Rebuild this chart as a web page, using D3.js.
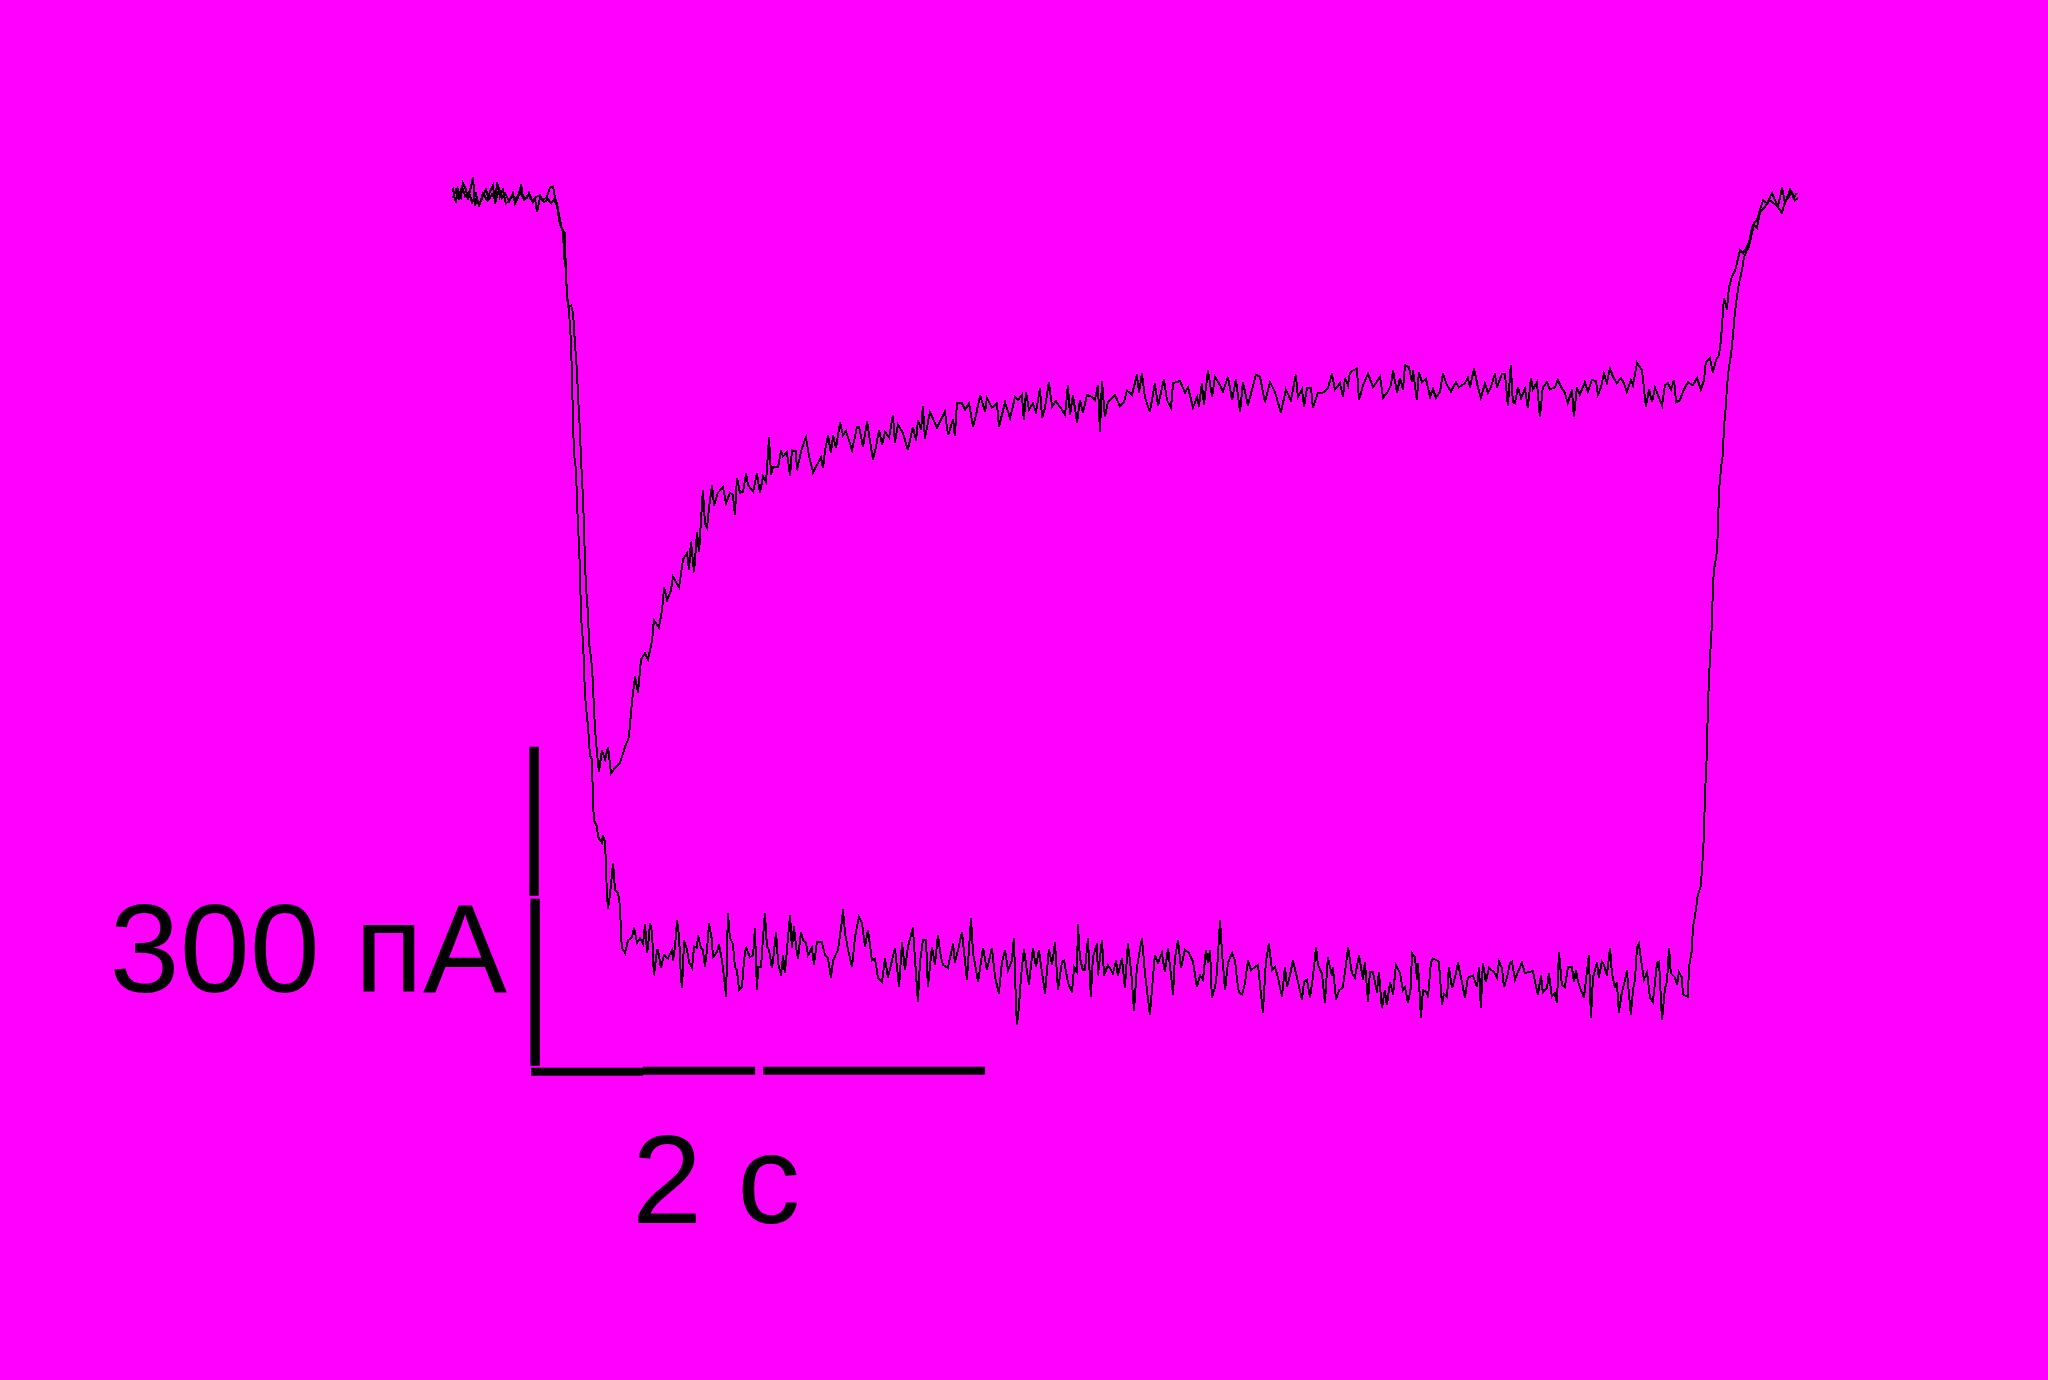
<!DOCTYPE html>
<html>
<head>
<meta charset="utf-8">
<script src="https://cdnjs.cloudflare.com/ajax/libs/d3/7.8.5/d3.min.js"></script>
<style>
  html, body { margin: 0; padding: 0; background: #ff00ff; }
  svg { display: block; }
</style>
</head>
<body>
<script>
// ---- data: time (s), current (pA) ----
const traceA = [
[0,8],[0.004,1],[0.013,-6],[0.022,6],[0.035,-1],[0.044,12],[0.057,6],[0.066,-4],[0.079,9],[0.088,18],[0.097,-9],[0.106,-4],[0.119,-7],[0.132,3],[0.150,-4],[0.163,4],[0.176,10],[0.185,-7],[0.194,13],[0.207,-1],[0.220,6],[0.233,-7],[0.251,-4],[0.264,3],[0.273,-7],[0.286,-2],[0.300,11],[0.308,-1],[0.326,-2],[0.335,3],[0.352,-6],[0.366,-1],[0.383,1],[0.396,-4],[0.414,-1],[0.427,8],[0.441,9],[0.449,-1],[0.458,-7],
[0.480,-32],[0.493,-35],[0.498,-79],[0.507,-104],[0.520,-103],[0.529,-110],[0.537,-138],[0.546,-164],[0.551,-189],[0.559,-220],[0.564,-248],[0.573,-286],[0.577,-311],[0.581,-342],[0.586,-368],[0.595,-394],[0.599,-420],[0.608,-434],[0.612,-443],[0.617,-460],[0.621,-483],[0.626,-502],[0.634,-523],[0.643,-542],[0.656,-521],[0.670,-530],[0.683,-518],[0.696,-543],[0.714,-538],[0.736,-533],[0.758,-518],[0.775,-509],[0.789,-474],[0.802,-452],[0.815,-467],[0.828,-436],[0.846,-430],[0.859,-436],[0.877,-418],[0.885,-399],[0.907,-406],[0.921,-389],[0.930,-368],[0.943,-380],[0.960,-371],[0.969,-358],[0.996,-368],[1.013,-342],[1.031,-336],[1.040,-352],[1.048,-325],[1.062,-354],[1.075,-316],[1.084,-335],[1.097,-289],[1.101,-277],[1.110,-308],[1.119,-312],[1.128,-293],[1.141,-272],[1.150,-291],[1.167,-279],[1.189,-274],[1.203,-289],[1.220,-279],[1.233,-281],[1.242,-300],[1.251,-265],[1.264,-279],[1.278,-278],[1.291,-261],[1.300,-272],[1.322,-278],[1.339,-261],[1.352,-279],[1.366,-264],[1.379,-269],[1.392,-227],[1.401,-262],[1.410,-255],[1.432,-255],[1.445,-239],[1.454,-245],[1.471,-241],[1.485,-263],[1.493,-239],[1.511,-240],[1.515,-258],[1.537,-237],[1.555,-227],[1.568,-244],[1.586,-260],[1.603,-253],[1.621,-246],[1.630,-256],[1.639,-239],[1.652,-225],[1.665,-242],[1.674,-225],[1.687,-237],[1.705,-213],[1.718,-225],[1.731,-221],[1.758,-239],[1.780,-217],[1.789,-217],[1.806,-236],[1.824,-212],[1.833,-225],[1.850,-248],[1.863,-236],[1.877,-220],[1.890,-234],[1.903,-222],[1.921,-227],[1.938,-206],[1.947,-232],[1.960,-215],[1.982,-223],[2.004,-239],[2.026,-217],[2.040,-230],[2.048,-211],[2.062,-220],[2.070,-198],[2.079,-228],[2.101,-203],[2.132,-218],[2.167,-203],[2.181,-225],[2.203,-210],[2.211,-226],[2.220,-195],[2.242,-195],[2.256,-201],[2.273,-195],[2.291,-217],[2.304,-206],[2.322,-187],[2.344,-203],[2.352,-190],[2.374,-199],[2.396,-195],[2.405,-217],
[2.432,-194],[2.454,-209],[2.476,-189],[2.489,-192],[2.506,-187],[2.515,-211],[2.524,-184],[2.537,-201],[2.555,-195],[2.568,-203],[2.586,-181],[2.595,-209],[2.608,-199],[2.625,-175],[2.639,-198],[2.656,-193],[2.683,-201],[2.696,-206],[2.709,-178],[2.718,-206],[2.731,-187],[2.749,-213],[2.762,-192],[2.775,-204],[2.793,-187],[2.815,-189],[2.828,-192],[2.841,-178],[2.850,-222],[2.859,-174],[2.872,-208],[2.885,-194],[2.916,-187],[2.938,-198],[2.956,-194],[2.969,-183],[2.991,-187],[3.013,-168],[3.022,-185],[3.035,-167],[3.048,-189],[3.070,-203],[3.092,-176],[3.106,-197],[3.132,-172],[3.145,-192],[3.163,-199],[3.172,-176],[3.203,-174],[3.225,-185],[3.238,-180],[3.260,-199],[3.278,-189],[3.286,-198],[3.299,-176],[3.308,-196],[3.326,-164],[3.344,-189],[3.357,-170],[3.379,-178],[3.392,-184],[3.414,-170],[3.432,-192],[3.449,-172],[3.467,-203],[3.480,-175],[3.502,-197],[3.520,-182],[3.537,-168],[3.555,-170],[3.577,-194],[3.599,-175],[3.621,-184],[3.647,-204],[3.669,-182],[3.691,-192],[3.713,-168],[3.722,-189],[3.740,-182],[3.749,-198],[3.762,-181],[3.780,-181],[3.788,-199],[3.810,-185],[3.832,-185],[3.854,-181],[3.872,-167],[3.885,-182],[3.907,-176],[3.921,-189],[3.929,-171],[3.943,-178],[3.951,-166],[3.982,-162],[3.991,-192],[4.009,-178],[4.031,-167],[4.053,-180],[4.084,-170],[4.097,-190],[4.115,-185],[4.132,-178],[4.141,-164],[4.159,-185],[4.172,-171],
[4.185,-182],[4.194,-159],[4.211,-161],[4.225,-175],[4.229,-164],[4.246,-192],[4.255,-166],[4.269,-175],[4.286,-172],[4.304,-189],[4.317,-181],[4.330,-190],[4.348,-184],[4.361,-167],[4.379,-178],[4.396,-184],[4.418,-175],[4.431,-180],[4.458,-176],[4.471,-171],[4.480,-180],[4.498,-162],[4.515,-180],[4.528,-190],[4.546,-176],[4.559,-185],[4.572,-180],[4.590,-167],[4.599,-180],[4.621,-167],[4.634,-167],[4.647,-197],[4.660,-159],[4.669,-194],[4.678,-195],[4.691,-180],[4.705,-190],[4.722,-181],[4.735,-199],[4.749,-171],[4.757,-182],[4.775,-175],[4.788,-208],[4.801,-180],[4.819,-175],[4.832,-182],[4.854,-180],[4.867,-173],[4.885,-181],[4.898,-185],[4.911,-195],[4.929,-182],[4.938,-208],[4.951,-180],[4.964,-187],[4.986,-175],[4.999,-184],[5.017,-173],[5.035,-174],[5.044,-187],[5.057,-180],[5.070,-167],[5.083,-176],[5.097,-162],[5.110,-170],[5.127,-176],[5.145,-171],[5.158,-176],[5.171,-184],[5.189,-173],[5.198,-178],[5.216,-157],[5.238,-164],[5.255,-198],[5.269,-182],[5.282,-194],[5.295,-180],[5.308,-187],[5.326,-197],[5.339,-178],[5.352,-176],[5.366,-182],[5.379,-173],[5.388,-194],[5.405,-192],[5.418,-184],[5.440,-175],[5.462,-178],[5.480,-171],[5.497,-182],[5.511,-173],[5.519,-156],[5.537,-152],[5.550,-166],[5.564,-154],[5.577,-150],[5.586,-135],[5.595,-107],[5.599,-96],[5.612,-107],[5.621,-86],[5.634,-76],[5.648,-70],[5.656,-63],[5.670,-51],[5.683,-54],[5.696,-49],[5.709,-44],[5.722,-30],[5.731,-25],[5.744,-23],[5.762,-10],[5.771,-4],[5.789,-7],[5.811,3],[5.824,-4],[5.837,-10],[5.855,8],[5.868,-7],[5.890,6],[5.907,-2],[5.920,3]
];

const traceB = [
[0,-2],[0.013,6],[0.026,-2],[0.040,9],[0.053,0],[0.070,4],[0.084,-6],[0.101,2],[0.115,-9],[0.128,-2],[0.145,6],[0.159,-3],[0.172,2],[0.189,-4],[0.203,7],[0.216,-2],[0.229,3],[0.247,-5],[0.260,0],[0.278,-3],[0.295,4],[0.313,-4],[0.330,1],[0.348,-4],[0.361,-2],[0.370,-15],[0.383,-2],[0.401,-6],[0.419,-3],[0.432,-7],[0.445,-3],[0.458,-9],
[0.471,-27],[0.485,-32],[0.489,-57],[0.498,-70],[0.502,-95],[0.511,-107],[0.515,-123],[0.520,-138],[0.524,-170],[0.529,-214],[0.533,-242],[0.542,-258],[0.546,-286],[0.551,-311],[0.559,-349],[0.564,-396],[0.573,-420],[0.577,-443],[0.581,-467],[0.586,-481],[0.595,-499],[0.603,-526],[0.612,-530],[0.617,-571],[0.621,-587],[0.634,-593],[0.639,-603],[0.656,-608],[0.661,-601],[0.670,-608],[0.678,-656],[0.683,-670],[0.692,-656],[0.705,-627],[0.714,-653],[0.727,-655],[0.736,-669],[0.740,-693],[0.744,-707],[0.758,-712],[0.771,-700],[0.789,-697],[0.797,-688],[0.811,-702],[0.824,-698],[0.837,-703],[0.846,-685],[0.855,-712],[0.859,-706],[0.868,-684],[0.877,-693],[0.885,-733],[0.899,-709],[0.903,-709],[0.916,-726],[0.929,-714],[0.947,-717],[0.965,-709],[0.969,-719],[0.978,-706],[0.987,-681],[0.996,-697],[1.004,-735],[1.009,-745],[1.018,-700],[1.031,-709],[1.040,-721],[1.053,-726],[1.062,-706],[1.075,-707],[1.079,-695],[1.092,-707],[1.101,-709],[1.110,-725],[1.119,-709],[1.128,-684],[1.141,-700],[1.145,-716],[1.163,-711],[1.172,-704],[1.185,-719],[1.194,-735],[1.203,-753],[1.211,-674],[1.220,-698],[1.233,-703],[1.242,-725],[1.251,-728],[1.260,-747],[1.273,-744],[1.282,-719],[1.291,-706],[1.308,-716],[1.322,-714],[1.330,-688],[1.339,-747],[1.344,-725],[1.357,-725],[1.366,-697],[1.374,-674],[1.383,-706],[1.392,-709],[1.405,-726],[1.410,-719],[1.423,-692],[1.432,-721],[1.445,-733],[1.454,-714],[1.462,-731],[1.476,-697],[1.485,-676],[1.493,-707],[1.502,-687],[1.515,-712],[1.520,-717],[1.533,-692],[1.542,-700],[1.555,-702],[1.564,-714],[1.581,-707],[1.590,-723],[1.603,-702],[1.625,-702],[1.639,-714],[1.652,-717],[1.665,-735],[1.674,-719],[1.696,-709],[1.714,-681],[1.718,-671],[1.727,-693],[1.740,-709],[1.758,-725],[1.771,-697],[1.788,-678],[1.802,-684],[1.815,-706],[1.828,-690],[1.846,-719],[1.859,-717],[1.872,-735],[1.890,-739],[1.903,-717],[1.916,-735],[1.934,-719],[1.947,-707],[1.965,-744],[1.978,-702],[1.991,-728],[2.004,-706],[2.026,-688],[2.048,-758],[2.057,-721],[2.070,-700],[2.084,-700],[2.092,-744],[2.110,-706],[2.123,-723],[2.136,-695],[2.150,-716],[2.158,-723],[2.180,-726],[2.203,-703],[2.211,-721],[2.225,-709],[2.242,-692],[2.264,-737],[2.282,-679],[2.291,-712],[2.313,-739],[2.335,-707],[2.352,-728],[2.374,-707],[2.388,-735],[2.405,-750],[2.418,-721],[2.432,-709],[2.445,-728],[2.462,-719],[2.471,-698],[2.480,-759],[2.484,-780],[2.493,-763],[2.502,-735],[2.515,-708],[2.528,-728],[2.537,-742],[2.555,-707],[2.568,-725],[2.581,-709],[2.595,-731],[2.608,-750],[2.625,-708],[2.639,-723],[2.652,-702],[2.665,-747],[2.683,-720],[2.692,-719],[2.709,-740],[2.727,-749],[2.736,-725],[2.749,-730],[2.753,-685],[2.762,-717],[2.775,-728],[2.784,-728],[2.797,-698],[2.810,-753],[2.819,-716],[2.837,-703],[2.841,-733],[2.859,-700],[2.868,-733],[2.885,-723],[2.907,-731],[2.921,-719],[2.929,-733],[2.947,-717],[2.960,-745],[2.973,-703],[2.987,-728],[3.000,-766],[3.013,-725],[3.035,-698],[3.048,-730],[3.070,-770],[3.079,-747],[3.092,-714],[3.106,-721],[3.123,-712],[3.136,-730],[3.150,-707],[3.172,-751],[3.180,-717],[3.194,-700],[3.207,-726],[3.224,-709],[3.242,-712],[3.260,-720],[3.277,-744],[3.291,-733],[3.304,-737],[3.317,-709],[3.326,-721],[3.335,-709],[3.343,-754],[3.357,-744],[3.365,-731],[3.379,-681],[3.388,-712],[3.401,-747],[3.414,-721],[3.432,-712],[3.445,-719],[3.454,-737],[3.462,-749],[3.476,-751],[3.489,-740],[3.502,-719],[3.515,-728],[3.528,-726],[3.546,-723],[3.559,-750],[3.568,-768],[3.581,-720],[3.594,-703],[3.608,-728],[3.621,-725],[3.634,-735],[3.652,-753],[3.665,-725],[3.674,-744],[3.687,-733],[3.700,-719],[3.718,-735],[3.740,-756],[3.749,-739],[3.762,-737],[3.775,-754],[3.788,-735],[3.802,-706],[3.810,-723],[3.828,-731],[3.841,-759],[3.854,-716],[3.872,-733],[3.876,-725],[3.890,-756],[3.903,-747],[3.920,-744],[3.938,-716],[3.943,-706],[3.960,-731],[3.973,-735],[3.991,-714],[4.009,-737],[4.017,-720],[4.031,-758],[4.039,-730],[4.053,-730],[4.070,-749],[4.079,-730],[4.092,-764],[4.105,-747],[4.114,-761],[4.128,-739],[4.141,-751],[4.154,-723],[4.172,-731],[4.185,-747],[4.194,-744],[4.207,-759],[4.220,-744],[4.224,-712],[4.238,-716],[4.247,-737],[4.251,-721],[4.264,-773],[4.273,-747],[4.291,-749],[4.295,-754],[4.308,-721],[4.317,-717],[4.335,-719],[4.343,-720],[4.357,-761],[4.365,-750],[4.379,-753],[4.387,-725],[4.401,-745],[4.414,-735],[4.427,-721],[4.445,-740],[4.458,-754],[4.471,-735],[4.493,-733],[4.511,-744],[4.520,-725],[4.528,-764],[4.537,-721],[4.550,-739],[4.564,-726],[4.586,-730],[4.599,-735],[4.608,-720],[4.621,-726],[4.630,-744],[4.643,-735],[4.656,-721],[4.665,-720],[4.678,-737],[4.691,-730],[4.709,-721],[4.722,-731],[4.735,-730],[4.757,-729],[4.775,-747],[4.779,-751],[4.793,-733],[4.801,-749],[4.819,-745],[4.828,-731],[4.841,-753],[4.854,-750],[4.863,-759],[4.872,-711],[4.885,-742],[4.898,-744],[4.912,-725],[4.929,-725],[4.938,-739],[4.947,-728],[4.956,-739],[4.973,-749],[4.982,-754],[4.995,-730],[5.004,-714],[5.013,-773],[5.022,-735],[5.039,-721],[5.048,-735],[5.061,-720],[5.070,-723],[5.083,-733],[5.097,-707],[5.105,-730],[5.119,-745],[5.127,-739],[5.136,-768],[5.149,-749],[5.158,-742],[5.171,-728],[5.189,-770],[5.198,-747],[5.207,-737],[5.216,-706],[5.224,-703],[5.238,-725],[5.246,-737],[5.260,-730],[5.273,-754],[5.286,-758],[5.304,-721],[5.313,-720],[5.326,-775],[5.339,-745],[5.348,-739],[5.357,-707],[5.365,-731],[5.383,-735],[5.392,-742],[5.401,-730],[5.414,-735],[5.418,-751],[5.440,-753],[5.445,-725],[5.458,-709],[5.462,-688],[5.471,-678],[5.484,-657],[5.497,-649],[5.506,-621],[5.511,-599],[5.515,-565],[5.524,-522],[5.528,-480],[5.537,-436],[5.546,-402],[5.550,-368],[5.555,-351],[5.564,-341],[5.568,-333],[5.572,-316],[5.577,-277],[5.586,-256],[5.594,-243],[5.599,-217],[5.608,-196],[5.612,-179],[5.621,-161],[5.630,-149],[5.638,-133],[5.647,-110],[5.656,-95],[5.665,-82],[5.678,-70],[5.687,-58],[5.700,-51],[5.709,-48],[5.722,-35],[5.731,-27],[5.744,-30],[5.758,-15],[5.780,-10],[5.801,-4],[5.832,-9],[5.854,-16],[5.867,-6],[5.881,-2],[5.898,4],[5.912,-4],[5.925,-2]
];

// scale bar: origin (s, pA), segments relative to origin
const scaleBarOrigin = [0.344, -818];
const scaleBarTimeSegments = [[0, 0.493], [0.493, 0.987], [1.022, 2.0]];   // s
const scaleBarCurrentSegments = [[0, 157], [160, 300]];                  // pA
const scaleBarLabels = { current: "300 пА", time: "2 с" };

// ---- layout ----
const W = 2048, H = 1380;
const svg = d3.select("body").append("svg").attr("width", W).attr("height", H);
svg.append("rect").attr("width", W).attr("height", H).attr("fill", "#ff00ff");

const x = d3.scaleLinear().domain([0, 2]).range([453, 907]);
const y = d3.scaleLinear().domain([0, -300]).range([196, 515]);

const line = d3.line().x(d => x(d[0])).y(d => y(d[1]));

svg.selectAll("path.trace")
  .data([traceA, traceB])
  .join("path")
  .attr("class", "trace")
  .attr("d", line)
  .attr("fill", "none")
  .attr("stroke", "#000")
  .attr("stroke-width", 2)
  .attr("stroke-linejoin", "miter")
  .attr("shape-rendering", "crispEdges");

// scale bar
const [t0, i0] = scaleBarOrigin;
const xb = x(t0);
const yb = y(i0);
svg.selectAll("line.vbar")
  .data(scaleBarCurrentSegments)
  .join("line")
  .attr("class", "vbar")
  .attr("x1", (d, k) => xb + 4 + k * -1).attr("x2", (d, k) => xb + 4 + k * -1)
  .attr("y1", d => y(i0 + d[0])).attr("y2", d => y(i0 + d[1]))
  .attr("stroke", "#000").attr("stroke-width", 9.5);

svg.selectAll("line.hbar")
  .data(scaleBarTimeSegments)
  .join("line")
  .attr("class", "hbar")
  .attr("x1", d => x(t0 + d[0])).attr("x2", d => x(t0 + d[1]))
  .attr("y1", (d, k) => yb + (k === 0 ? 6 : 5)).attr("y2", (d, k) => yb + (k === 0 ? 6 : 5))
  .attr("stroke", "#000").attr("stroke-width", 8);

svg.append("text")
  .attr("x", xb - 24).attr("y", 992)
  .attr("text-anchor", "end")
  .attr("font-family", "'Liberation Sans', Arial, sans-serif")
  .attr("font-size", 126)
  .attr("fill", "#000")
  .text(scaleBarLabels.current);

svg.append("text")
  .attr("x", xb + 101).attr("y", 1223)
  .attr("text-anchor", "start")
  .attr("font-family", "'Liberation Sans', Arial, sans-serif")
  .attr("font-size", 126)
  .attr("fill", "#000")
  .text(scaleBarLabels.time);
</script>
</body>
</html>
